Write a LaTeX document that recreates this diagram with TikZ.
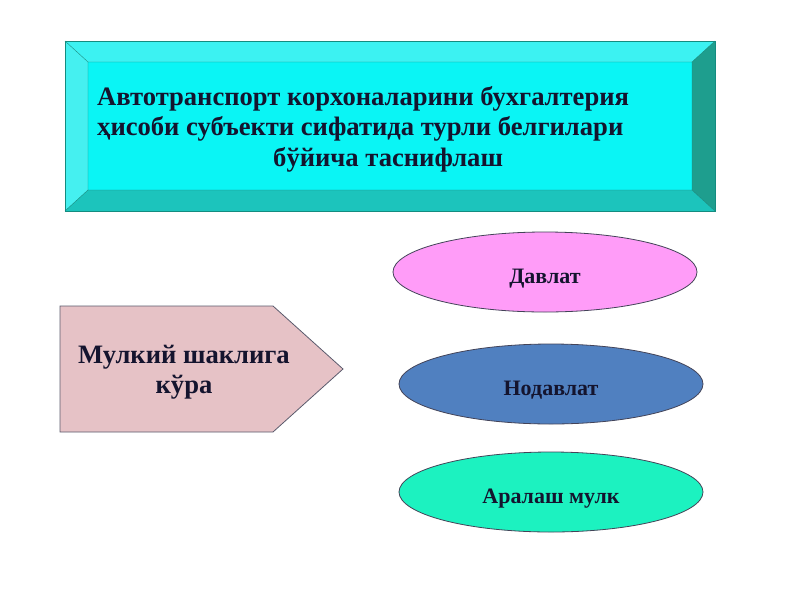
\documentclass[tikz,border=0pt]{standalone}
\usepackage{fontspec}
\setmainfont{Liberation Serif}
\usetikzlibrary{shapes.geometric}
\definecolor{face}{HTML}{0AF5F5}
\definecolor{bevtop}{HTML}{3CF2F2}
\definecolor{bevleft}{HTML}{45F0F0}
\definecolor{bevbot}{HTML}{1CC4BC}
\definecolor{bevright}{HTML}{1E9E8E}
\definecolor{bevline}{HTML}{148C80}
\definecolor{pentfill}{HTML}{E6C2C6}
\definecolor{pink}{HTML}{FF9CF8}
\definecolor{steel}{HTML}{5080C0}
\definecolor{aqua}{HTML}{1CF2C0}
\definecolor{ink}{HTML}{14142E}
\tikzset{
  oval/.style={ellipse, draw=ink!80, line width=0.8pt, minimum width=304pt, minimum height=80pt, inner sep=0pt,
    text height=22pt, text depth=0pt,
    font=\fontsize{22}{24}\selectfont\bfseries, text=ink},
  bigtext/.style={font=\fontsize{26.6}{30.5}\selectfont\bfseries, text=ink, inner sep=0pt, align=left},
}
\begin{document}
\begin{tikzpicture}[x=1pt,y=-1pt]
\useasboundingbox (0,0) rectangle (800,600);
\fill[white] (0,0) rectangle (800,600);
% bevel box
\fill[bevtop] (65,41) -- (715,41) -- (692,62) -- (88,62) -- cycle;
\fill[bevleft] (65,41) -- (88,62) -- (88,190) -- (65,211) -- cycle;
\fill[bevbot] (65,211) -- (88,190) -- (692,190) -- (715,211) -- cycle;
\fill[bevright] (715,41) -- (715,211) -- (692,190) -- (692,62) -- cycle;
\fill[face] (88,62) rectangle (692,190);
\draw[bevline, line width=0.6pt] (65,41) rectangle (715,211);
\draw[bevline, line width=0.4pt] (88,62) rectangle (692,190)
  (65,41) -- (88,62) (715,41) -- (692,62) (65,211) -- (88,190) (715,211) -- (692,190);
\node[bigtext, anchor=base west] (title) at (97,166)
  {Автотранспорт корхоналарини бухгалтерия\\ҳисоби субъекти сифатида турли белгилари\\\hspace*{176pt}бўйича таснифлаш};
% pentagon
\fill[pentfill] (60,306) -- (273,306) -- (343,369) -- (273,432) -- (60,432) -- cycle;
\draw[ink!70, line width=0.8pt] (60,306) -- (273,306) -- (343,369) -- (273,432) -- (60,432) -- cycle;
\node[font=\fontsize{26.6}{30}\selectfont\bfseries, text=ink, align=center, inner sep=0pt, anchor=base] (mulk) at (184,393)
  {Мулкий шаклига\\кўра};
% ellipses
\node[oval, fill=pink] (davlat) at (545,272) {Давлат};
\node[oval, fill=steel] (nodavlat) at (551,384) {Нодавлат};
\node[oval, fill=aqua] (aralash) at (551,492) {Аралаш мулк};
\end{tikzpicture}
\end{document}
